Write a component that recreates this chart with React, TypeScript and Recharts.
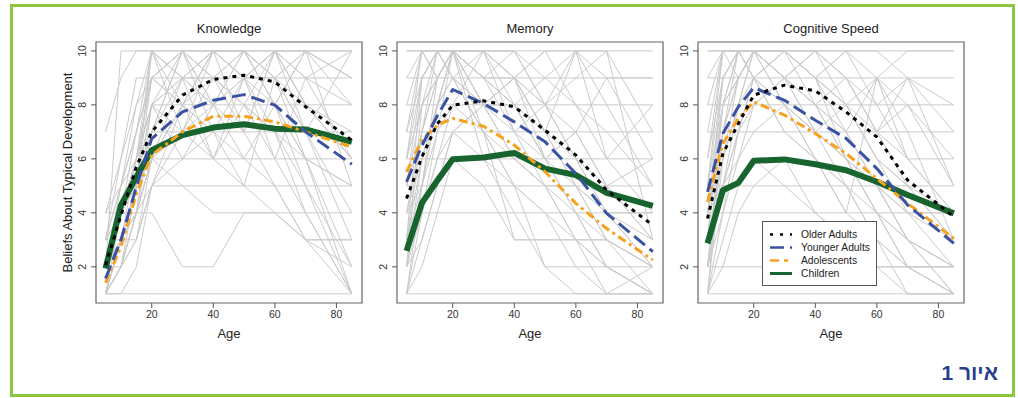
import React from "react";
import { LineChart, Line, XAxis, YAxis, ReferenceArea } from "recharts";

// ages at which every belief was rated
const ages = [5, 10, 15, 20, 30, 40, 50, 60, 70, 85];
const xTicks = [20, 40, 60, 80];
const yTicks = [2, 4, 6, 8, 10];
const seriesNames = ["Older Adults", "Younger Adults", "Adolescents", "Children"];

// group means — Knowledge
const knowledgeOlder = [2.06, 3.9, 5.7, 7.0, 8.36, 8.94, 9.1, 8.85, 7.93, 6.69];
const knowledgeYounger = [1.57, 3.0, 4.96, 6.75, 7.74, 8.17, 8.38, 7.99, 7.0, 5.8];
const knowledgeAdol = [1.41, 2.74, 4.7, 6.14, 7.0, 7.58, 7.58, 7.37, 7.0, 6.44];
const knowledgeChild = [1.94, 4.28, 5.33, 6.32, 6.88, 7.16, 7.28, 7.12, 7.09, 6.63];

// group means — Memory
const memoryOlder = [4.53, 6.07, 7.3, 7.99, 8.15, 7.93, 7.06, 6.14, 4.84, 3.54];
const memoryYounger = [5.15, 6.5, 7.6, 8.57, 8.05, 7.37, 6.63, 5.46, 3.98, 2.56];
const memoryAdol = [5.52, 6.69, 7.25, 7.5, 7.21, 6.51, 5.52, 4.35, 3.42, 2.25];
const memoryChild = [2.59, 4.37, 5.2, 5.99, 6.05, 6.22, 5.64, 5.4, 4.74, 4.26];

// group means — Cognitive Speed
const speedOlder = [3.79, 6.2, 7.3, 8.36, 8.73, 8.52, 7.74, 6.81, 5.21, 3.85];
const speedYounger = [4.78, 6.94, 7.93, 8.64, 8.17, 7.43, 6.76, 5.64, 4.29, 2.87];
const speedAdol = [4.41, 6.57, 7.5, 8.11, 7.62, 6.94, 6.2, 5.27, 4.35, 3.05];
const speedChild = [2.87, 4.84, 5.11, 5.93, 5.98, 5.8, 5.58, 5.15, 4.66, 3.98];

// individual ratings (grey lines)
const knowledgeIndividuals = [
  [1, 1, 1, 1, 1, 1, 1, 1, 1, 1],
  [2, 10, 10, 10, 10, 10, 10, 10, 10, 10],
  [7, 9, 10, 10, 9, 10, 9, 10, 9, 10],
  [1, 3, 5, 9, 9, 9, 9, 9, 9, 9],
  [2, 4, 6, 8, 8, 8, 8, 8, 8, 8],
  [3, 5, 7, 10, 9, 10, 10, 9, 8, 7],
  [1, 2, 4, 6, 7, 8, 9, 10, 8, 6],
  [2, 4, 5, 7, 7, 7, 7, 7, 7, 7],
  [1, 3, 4, 6, 6, 6, 6, 6, 6, 6],
  [4, 4, 4, 4, 2, 2, 4, 4, 4, 4],
  [3, 3, 3, 5, 5, 5, 5, 5, 5, 5],
  [1, 2, 3, 5, 8, 10, 10, 8, 5, 1],
  [2, 3, 4, 7, 10, 9, 8, 7, 5, 2],
  [1, 4, 6, 8, 9, 10, 9, 7, 4, 1],
  [3, 5, 8, 9, 10, 10, 10, 9, 7, 3],
  [2, 4, 6, 9, 10, 8, 7, 10, 8, 6],
  [1, 3, 5, 10, 8, 9, 10, 8, 10, 5],
  [2, 3, 5, 8, 7, 6, 5, 4, 3, 3],
  [4, 6, 8, 10, 10, 9, 8, 6, 4, 1],
  [1, 2, 4, 6, 5, 4, 4, 4, 3, 3],
  [2, 5, 7, 9, 8, 10, 9, 9, 10, 9],
  [3, 4, 6, 7, 9, 8, 10, 9, 7, 4],
  [1, 2, 5, 8, 9, 9, 8, 7, 6, 2],
  [2, 4, 7, 9, 10, 10, 9, 8, 6, 5],
  [1, 3, 6, 10, 9, 8, 9, 10, 9, 8],
  [3, 6, 9, 9, 8, 7, 6, 5, 3, 2],
  [2, 3, 4, 6, 8, 10, 10, 10, 10, 10],
  [1, 2, 4, 5, 6, 7, 9, 10, 10, 9],
  [2, 3, 5, 10, 7, 10, 7, 10, 7, 10],
  [1, 2, 4, 8, 10, 8, 10, 8, 10, 8],
  [3, 4, 5, 6, 9, 6, 9, 6, 9, 6],
  [1, 1, 2, 5, 7, 9, 7, 5, 3, 1],
  [2, 4, 6, 9, 10, 9, 10, 9, 10, 9],
  [1, 3, 5, 7, 10, 7, 5, 9, 6, 1],
  [2, 2, 3, 6, 8, 6, 8, 10, 8, 6],
  [4, 5, 6, 8, 6, 8, 6, 8, 6, 5],
];

const memoryIndividuals = [
  [10, 10, 10, 10, 10, 10, 10, 10, 10, 10],
  [9, 9, 9, 9, 9, 9, 9, 9, 9, 9],
  [8, 8, 8, 8, 8, 8, 8, 8, 8, 8],
  [7, 7, 7, 7, 7, 7, 7, 7, 7, 7],
  [6, 6, 6, 6, 6, 6, 6, 6, 6, 6],
  [5, 5, 5, 5, 5, 5, 5, 5, 5, 5],
  [4, 4, 4, 4, 4, 4, 4, 4, 4, 4],
  [1, 1, 1, 1, 1, 1, 1, 1, 1, 1],
  [3, 6, 8, 10, 9, 8, 6, 4, 2, 1],
  [2, 5, 9, 10, 10, 9, 7, 5, 3, 2],
  [5, 8, 10, 9, 8, 7, 5, 3, 2, 1],
  [1, 4, 7, 10, 8, 6, 5, 3, 1, 1],
  [4, 7, 10, 10, 10, 8, 6, 4, 3, 2],
  [6, 9, 10, 9, 7, 5, 4, 3, 2, 1],
  [3, 5, 8, 10, 9, 10, 8, 6, 4, 2],
  [2, 4, 6, 8, 10, 9, 8, 7, 5, 3],
  [1, 2, 4, 6, 5, 3, 3, 3, 3, 2],
  [5, 7, 9, 10, 10, 10, 9, 8, 6, 4],
  [8, 10, 10, 9, 8, 6, 5, 4, 2, 1],
  [4, 6, 8, 9, 10, 9, 10, 8, 7, 5],
  [2, 3, 5, 7, 6, 4, 2, 1, 1, 1],
  [3, 7, 9, 10, 9, 8, 9, 10, 9, 9],
  [6, 8, 9, 10, 10, 7, 6, 7, 9, 6],
  [1, 3, 5, 7, 8, 8, 6, 5, 3, 2],
  [7, 9, 10, 10, 9, 9, 10, 10, 8, 5],
  [2, 6, 8, 9, 7, 5, 4, 2, 1, 2],
  [4, 5, 7, 8, 7, 6, 5, 5, 4, 4],
  [1, 5, 8, 10, 10, 10, 8, 10, 10, 3],
  [3, 4, 6, 7, 8, 9, 7, 6, 5, 3],
  [5, 9, 10, 10, 7, 3, 3, 3, 3, 1],
  [10, 10, 9, 10, 8, 9, 7, 5, 4, 3],
  [7, 10, 9, 10, 9, 7, 8, 6, 4, 2],
  [3, 9, 10, 10, 8, 9, 6, 7, 5, 6],
  [9, 10, 10, 10, 10, 9, 8, 9, 10, 7],
  [2, 8, 9, 10, 6, 5, 2, 2, 2, 2],
  [6, 10, 10, 10, 9, 8, 7, 10, 6, 8],
];

const speedIndividuals = [
  [10, 10, 10, 10, 10, 10, 10, 10, 10, 10],
  [9, 9, 9, 9, 9, 9, 9, 9, 9, 9],
  [8, 8, 8, 8, 8, 8, 8, 8, 8, 8],
  [7, 7, 7, 7, 7, 7, 7, 7, 7, 7],
  [5, 5, 5, 5, 5, 5, 5, 5, 5, 5],
  [4, 4, 4, 4, 4, 4, 4, 4, 4, 4],
  [2, 2, 2, 2, 2, 2, 2, 2, 2, 2],
  [1, 1, 1, 1, 1, 1, 1, 1, 1, 1],
  [2, 7, 10, 10, 9, 8, 6, 4, 2, 1],
  [3, 8, 9, 10, 10, 9, 7, 5, 3, 2],
  [5, 9, 10, 9, 8, 6, 5, 3, 2, 1],
  [1, 6, 8, 10, 9, 7, 6, 4, 3, 2],
  [4, 8, 10, 10, 10, 9, 8, 6, 4, 2],
  [6, 10, 10, 9, 7, 6, 4, 3, 1, 1],
  [2, 5, 7, 9, 10, 10, 9, 7, 5, 3],
  [3, 6, 9, 10, 8, 7, 6, 5, 4, 4],
  [1, 3, 5, 6, 5, 4, 3, 2, 2, 2],
  [4, 7, 9, 10, 10, 10, 10, 9, 8, 6],
  [8, 10, 10, 10, 9, 8, 7, 5, 3, 1],
  [2, 4, 6, 8, 9, 10, 9, 8, 6, 4],
  [1, 2, 4, 5, 6, 4, 3, 2, 1, 1],
  [3, 6, 8, 10, 9, 8, 7, 9, 10, 10],
  [5, 8, 9, 10, 10, 9, 8, 6, 5, 3],
  [1, 4, 7, 9, 8, 7, 5, 4, 2, 1],
  [6, 9, 10, 10, 9, 10, 9, 7, 6, 4],
  [2, 5, 8, 9, 7, 6, 5, 3, 2, 2],
  [4, 5, 6, 7, 8, 7, 6, 5, 4, 3],
  [1, 7, 9, 10, 10, 9, 10, 10, 9, 8],
  [3, 5, 7, 8, 9, 8, 6, 4, 3, 2],
  [9, 10, 10, 9, 10, 8, 9, 7, 9, 5],
  [7, 10, 10, 10, 8, 6, 4, 9, 7, 3],
  [3, 9, 10, 10, 9, 7, 8, 6, 5, 4],
  [2, 8, 10, 9, 10, 9, 6, 5, 3, 1],
  [5, 10, 9, 10, 9, 10, 8, 9, 6, 6],
  [10, 10, 10, 10, 10, 9, 10, 8, 9, 7],
  [4, 9, 10, 10, 10, 9, 8, 7, 8, 5],
];

const FONT = "'Liberation Sans', Arial, sans-serif";
const GREY = "#cbcbcb";

// stroke look per mean series (same order as seriesNames)
const meanStyles = [
  { key: "older", color: "#000000", width: 3, dash: "4 5" },
  { key: "younger", color: "#3a52a3", width: 3, dash: "14 6" },
  { key: "adol", color: "#f7a21e", width: 3, dash: "9 4 3 4" },
  { key: "child", color: "#17642f", width: 6, dash: undefined },
];

function makeRows(means: number[][], individuals: number[][]) {
  return ages.map((age, i) => {
    const row: Record<string, number> = { age };
    meanStyles.forEach((s, k) => {
      row[s.key] = means[k][i];
    });
    individuals.forEach((ind, j) => {
      row[`g${j}`] = ind[i];
    });
    return row;
  });
}

const XTick = (props: any) => {
  const { x, y, payload } = props;
  return (
    <text x={x} y={y} dy="0.71em" textAnchor="middle" fontSize={10.5} fill="#333" fontFamily={FONT}>
      {payload.value}
    </text>
  );
};

const YTick = (props: any) => {
  const { x, y, payload } = props;
  return (
    <text
      x={x}
      y={y}
      dy={-3}
      transform={`rotate(-90 ${x} ${y})`}
      textAnchor="middle"
      fontSize={10.5}
      fill="#333"
      fontFamily={FONT}
    >
      {payload.value}
    </text>
  );
};

const BOX_W = 266;
const LEFT_SPACE = 40;

type PanelProps = {
  boxLeft: number;
  title: string;
  means: number[][];
  individuals: number[][];
  showYLabel?: boolean;
};

const Panel = ({ boxLeft, title, means, individuals, showYLabel }: PanelProps) => {
  const rows = makeRows(means, individuals);
  return (
    <>
      <div
        style={{
          position: "absolute",
          left: boxLeft,
          top: 21,
          width: BOX_W,
          textAlign: "center",
          fontFamily: FONT,
          fontSize: 13,
          lineHeight: "16px",
          color: "#222",
        }}
      >
        {title}
      </div>
      <div style={{ position: "absolute", left: boxLeft - LEFT_SPACE, top: 10 }}>
        <LineChart
          width={LEFT_SPACE + BOX_W + 8}
          height={335}
          data={rows}
          margin={{ top: 32, right: 8, bottom: 0, left: 0 }}
        >
          <XAxis
            type="number"
            dataKey="age"
            domain={[1.9, 88.3]}
            ticks={xTicks}
            height={42}
            axisLine={false}
            tickSize={5}
            tickMargin={3}
            tickLine={{ stroke: "#555" }}
            tick={<XTick />}
            allowDataOverflow
            label={(p: any) => (
              <text
                x={p.viewBox.x + p.viewBox.width / 2}
                y={p.viewBox.y + 35}
                textAnchor="middle"
                fontSize={13}
                fill="#222"
                fontFamily={FONT}
              >
                Age
              </text>
            )}
          />
          <YAxis
            type="number"
            domain={[0.66, 10.33]}
            ticks={yTicks}
            width={LEFT_SPACE}
            axisLine={false}
            tickSize={5}
            tickMargin={2}
            tickLine={{ stroke: "#555" }}
            tick={<YTick />}
            allowDataOverflow
            label={
              showYLabel
                ? (p: any) => {
                    const cx = p.viewBox.x + p.viewBox.width - 29;
                    const cy = p.viewBox.y + p.viewBox.height / 2;
                    return (
                      <text
                        x={cx}
                        y={cy}
                        dy="0.35em"
                        transform={`rotate(-90 ${cx} ${cy})`}
                        textAnchor="middle"
                        fontSize={13}
                        fill="#222"
                        fontFamily={FONT}
                      >
                        Beliefs About Typical Development
                      </text>
                    );
                  }
                : undefined
            }
          />
          {individuals.map((_, j) => (
            <Line
              key={`g${j}`}
              dataKey={`g${j}`}
              stroke={GREY}
              strokeWidth={1}
              dot={false}
              activeDot={false}
              legendType="none"
              isAnimationActive={false}
            />
          ))}
          {[...meanStyles].reverse().map((s) => (
            <Line
              key={s.key}
              dataKey={s.key}
              stroke={s.color}
              strokeWidth={s.width}
              strokeDasharray={s.dash}
              strokeLinejoin="round"
              dot={false}
              activeDot={false}
              isAnimationActive={false}
            />
          ))}
          <ReferenceArea
            x1={1.9}
            x2={88.3}
            y1={0.66}
            y2={10.33}
            fill="none"
            stroke="#666"
            strokeWidth={1.2}
            ifOverflow="visible"
          />
        </LineChart>
      </div>
    </>
  );
};

const LegendBox = () => (
  <div
    style={{
      position: "absolute",
      left: 762,
      top: 221,
      width: 115,
      height: 65,
      boxSizing: "border-box",
      border: "1px solid #555",
      background: "#fff",
    }}
  >
    <svg width={113} height={63}>
      {seriesNames.map((name, i) => {
        const s = meanStyles[i];
        const y = 12.5 + i * 13;
        return (
          <g key={name}>
            <line
              x1={7}
              x2={29}
              y1={y}
              y2={y}
              stroke={s.color}
              strokeWidth={s.key === "child" ? 3 : 2.5}
              strokeDasharray={s.key === "older" ? "3 7" : s.key === "adol" ? "9 5 4 5" : s.dash}
            />
            <text x={38} y={y} dy="0.35em" fontSize={10.3} fill="#222" fontFamily={FONT}>
              {name}
            </text>
          </g>
        );
      })}
    </svg>
  </div>
);

export default function App() {
  return (
    <div style={{ position: "absolute", left: 0, top: 0, width: 1018, height: 398, background: "#fff" }}>
      <div
        style={{
          position: "absolute",
          left: 10,
          top: 4,
          width: 1005,
          height: 393,
          boxSizing: "border-box",
          border: "3px solid #8dc640",
        }}
      />
      <Panel
        boxLeft={96}
        title="Knowledge"
        means={[knowledgeOlder, knowledgeYounger, knowledgeAdol, knowledgeChild]}
        individuals={knowledgeIndividuals}
        showYLabel
      />
      <Panel
        boxLeft={397}
        title="Memory"
        means={[memoryOlder, memoryYounger, memoryAdol, memoryChild]}
        individuals={memoryIndividuals}
      />
      <Panel
        boxLeft={698}
        title="Cognitive Speed"
        means={[speedOlder, speedYounger, speedAdol, speedChild]}
        individuals={speedIndividuals}
      />
      <LegendBox />
      <div
        dir="rtl"
        style={{
          position: "absolute",
          right: 1018 - 998,
          top: 361,
          fontFamily: FONT,
          fontSize: 21,
          fontWeight: "bold",
          lineHeight: "24px",
          color: "#2c3e8f",
        }}
      >
        איור 1
      </div>
    </div>
  );
}
